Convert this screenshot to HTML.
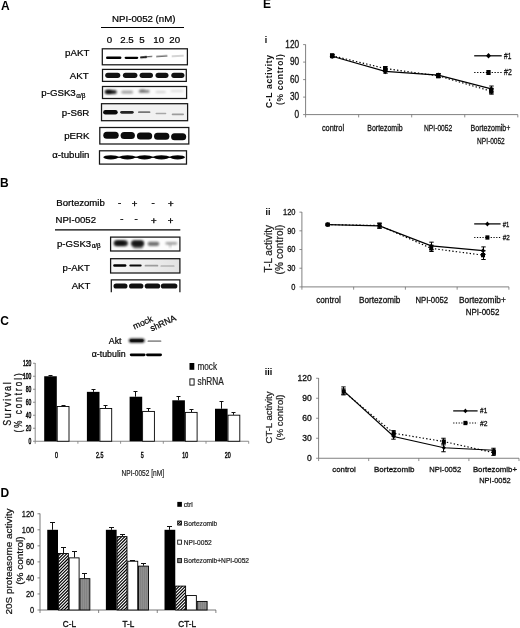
<!DOCTYPE html>
<html><head><meta charset="utf-8"><title>Figure</title>
<style>
html,body{margin:0;padding:0;background:#fff;}
body{width:520px;height:628px;overflow:hidden;}
svg{display:block;filter:grayscale(1);font-family:'Liberation Sans', sans-serif;}
</style></head><body>
<svg width="520" height="628" viewBox="0 0 520 628" font-family="'Liberation Sans', sans-serif">
<rect width="520" height="628" fill="#fff"/>
<defs>
<filter id="b1" x="-20%" y="-100%" width="140%" height="300%"><feGaussianBlur stdDeviation="0.7"/></filter>
<filter id="b2" x="-20%" y="-100%" width="140%" height="300%"><feGaussianBlur stdDeviation="1.1"/></filter>
<pattern id="hatch" width="1.7" height="1.7" patternUnits="userSpaceOnUse" patternTransform="rotate(-52)"><rect width="1.7" height="1.7" fill="#fff"/><rect width="1.7" height="0.9" fill="#000"/></pattern>
<pattern id="vstripe" width="2" height="2" patternUnits="userSpaceOnUse"><rect width="2" height="2" fill="#8f8f8f"/><rect width="1" height="2" fill="#838383"/></pattern>
</defs>
<text transform="translate(1.10,9.60)" font-size="12" text-anchor="start" font-weight="bold" fill="#000">A</text>
<text transform="translate(112.00,22.40)" font-size="9.7" text-anchor="start" fill="#000" stroke="#000" stroke-width="0.22">NPI-0052 (nM)</text>
<line x1="101.00" y1="27.50" x2="184.00" y2="27.50" stroke="#000" stroke-width="1.1"/>
<text transform="translate(109.50,43.40)" font-size="9.7" text-anchor="middle" fill="#000" stroke="#000" stroke-width="0.22">0</text>
<text transform="translate(127.00,43.40)" font-size="9.7" text-anchor="middle" fill="#000" stroke="#000" stroke-width="0.22">2.5</text>
<text transform="translate(142.00,43.40)" font-size="9.7" text-anchor="middle" fill="#000" stroke="#000" stroke-width="0.22">5</text>
<text transform="translate(158.70,43.40)" font-size="9.7" text-anchor="middle" fill="#000" stroke="#000" stroke-width="0.22">10</text>
<text transform="translate(174.70,43.40)" font-size="9.7" text-anchor="middle" fill="#000" stroke="#000" stroke-width="0.22">20</text>
<text transform="translate(89.30,56.30)" font-size="9.7" text-anchor="end" fill="#000" stroke="#000" stroke-width="0.22">pAKT</text>
<text transform="translate(88.70,79.40)" font-size="9.7" text-anchor="end" fill="#000" stroke="#000" stroke-width="0.22">AKT</text>
<text transform="translate(41.30,96.10)" font-size="9.7" text-anchor="start" fill="#000" stroke="#000" stroke-width="0.22">p-GSK3<tspan font-size="6.4" dy="1.7" dx="0.5">α/β</tspan></text>
<text transform="translate(89.30,116.30)" font-size="9.7" text-anchor="end" fill="#000" stroke="#000" stroke-width="0.22">p-S6R</text>
<text transform="translate(89.50,139.30)" font-size="9.7" text-anchor="end" fill="#000" stroke="#000" stroke-width="0.22">pERK</text>
<text transform="translate(89.50,158.00)" font-size="9.7" text-anchor="end" fill="#000" stroke="#000" stroke-width="0.22">α-tubulin</text>
<rect x="102.30" y="48.80" width="85.10" height="16.00" fill="#fff" stroke="#161616" stroke-width="1.25"/>
<rect x="102.50" y="69.40" width="83.80" height="12.00" fill="#fff" stroke="#161616" stroke-width="1.25"/>
<rect x="102.50" y="86.50" width="84.10" height="12.00" fill="#fbfbfb" stroke="#161616" stroke-width="1.25"/>
<rect x="101.50" y="103.70" width="86.10" height="17.00" fill="#f1f1f1" stroke="#161616" stroke-width="1.25"/>
<rect x="99.80" y="127.50" width="89.00" height="16.50" fill="#fff" stroke="#161616" stroke-width="1.25"/>
<rect x="99.50" y="150.80" width="87.00" height="13.30" fill="#fff" stroke="#161616" stroke-width="1.25"/>
<rect x="106.00" y="56.55" width="15.40" height="2.50" rx="1.25" fill="#000" opacity="1.0" filter="url(#b1)"/>
<rect x="124.60" y="56.65" width="13.70" height="2.30" rx="1.15" fill="#000" opacity="1.0" filter="url(#b1)"/>
<rect x="140.00" y="56.30" width="7.00" height="2.00" rx="1.00" fill="#000" opacity="0.9" filter="url(#b1)" transform="rotate(-5 143.50 57.30)"/>
<rect x="145.00" y="55.90" width="7.50" height="1.40" rx="0.70" fill="#000" opacity="0.6" filter="url(#b1)" transform="rotate(-5 148.75 56.60)"/>
<rect x="156.00" y="55.55" width="11.60" height="1.50" rx="0.75" fill="#000" opacity="0.55" filter="url(#b1)" transform="rotate(-4 161.80 56.30)"/>
<rect x="171.50" y="55.35" width="12.40" height="1.30" rx="0.65" fill="#000" opacity="0.22" filter="url(#b1)" transform="rotate(-3 177.70 56.00)"/>
<rect x="105.20" y="72.65" width="15.10" height="5.30" rx="2.65" fill="#000" opacity="0.92" filter="url(#b1)"/>
<rect x="122.90" y="72.65" width="14.50" height="5.30" rx="2.65" fill="#000" opacity="0.92" filter="url(#b1)"/>
<rect x="139.60" y="72.65" width="13.40" height="5.30" rx="2.65" fill="#000" opacity="0.92" filter="url(#b1)"/>
<rect x="155.50" y="72.65" width="13.00" height="5.30" rx="2.65" fill="#000" opacity="0.92" filter="url(#b1)"/>
<rect x="171.30" y="72.65" width="13.10" height="5.30" rx="2.65" fill="#000" opacity="0.92" filter="url(#b1)"/>
<rect x="104.80" y="89.90" width="12.00" height="4.20" rx="2.10" fill="#000" opacity="0.85" filter="url(#b2)"/>
<rect x="105.50" y="90.00" width="6.50" height="3.60" rx="1.80" fill="#000" opacity="0.7" filter="url(#b2)"/>
<rect x="121.40" y="90.80" width="11.60" height="2.80" rx="1.40" fill="#000" opacity="0.38" filter="url(#b2)"/>
<rect x="138.70" y="90.00" width="10.80" height="2.80" rx="1.40" fill="#000" opacity="0.5" filter="url(#b2)"/>
<rect x="140.00" y="89.20" width="5.00" height="2.00" rx="1.00" fill="#000" opacity="0.3" filter="url(#b2)"/>
<rect x="155.50" y="91.20" width="10.30" height="1.60" rx="0.80" fill="#000" opacity="0.22" filter="url(#b2)"/>
<rect x="170.50" y="90.20" width="12.90" height="1.60" rx="0.80" fill="#000" opacity="0.16" filter="url(#b2)"/>
<rect x="103.10" y="110.05" width="14.60" height="4.50" rx="2.25" fill="#000" opacity="0.97" filter="url(#b1)"/>
<rect x="120.20" y="110.90" width="13.50" height="2.80" rx="1.40" fill="#000" opacity="0.85" filter="url(#b1)"/>
<rect x="138.00" y="111.30" width="12.40" height="1.80" rx="0.90" fill="#000" opacity="0.5" filter="url(#b1)"/>
<rect x="155.50" y="112.65" width="10.80" height="1.50" rx="0.75" fill="#000" opacity="0.3" filter="url(#b1)"/>
<rect x="171.70" y="113.45" width="12.30" height="1.70" rx="0.85" fill="#000" opacity="0.35" filter="url(#b1)"/>
<rect x="103.30" y="131.80" width="15.40" height="7.00" rx="3.50" fill="#000" opacity="0.95" filter="url(#b1)"/>
<rect x="120.60" y="132.10" width="14.30" height="7.00" rx="3.50" fill="#000" opacity="0.95" filter="url(#b1)"/>
<rect x="136.90" y="132.50" width="15.30" height="7.00" rx="3.50" fill="#000" opacity="0.95" filter="url(#b1)"/>
<rect x="154.00" y="132.80" width="15.40" height="7.00" rx="3.50" fill="#000" opacity="0.95" filter="url(#b1)"/>
<rect x="171.10" y="133.30" width="15.10" height="7.00" rx="3.50" fill="#000" opacity="0.95" filter="url(#b1)"/>
<ellipse cx="110.80" cy="157.3" rx="7.50" ry="2.1" fill="#000" opacity="0.97" filter="url(#b1)"/>
<ellipse cx="127.50" cy="157.3" rx="7.70" ry="2.1" fill="#000" opacity="0.97" filter="url(#b1)"/>
<ellipse cx="144.60" cy="157.3" rx="7.60" ry="2.1" fill="#000" opacity="0.97" filter="url(#b1)"/>
<ellipse cx="161.40" cy="157.3" rx="7.80" ry="2.1" fill="#000" opacity="0.97" filter="url(#b1)"/>
<ellipse cx="177.60" cy="157.3" rx="7.40" ry="2.1" fill="#000" opacity="0.97" filter="url(#b1)"/>
<rect x="105.00" y="156.60" width="78.00" height="1.40" rx="0.70" fill="#000" opacity="0.9" filter="url(#b1)"/>
<text transform="translate(0.00,186.70)" font-size="12" text-anchor="start" font-weight="bold" fill="#000">B</text>
<text transform="translate(56.30,206.30)" font-size="9.6" text-anchor="start" fill="#000" stroke="#000" stroke-width="0.22">Bortezomib</text>
<text transform="translate(55.50,223.00)" font-size="9.6" text-anchor="start" fill="#000" stroke="#000" stroke-width="0.22">NPI-0052</text>
<text transform="translate(119.70,205.60)" font-size="9.6" text-anchor="middle" fill="#000" stroke="#000" stroke-width="0.4">-</text>
<text transform="translate(134.60,206.90)" font-size="9.6" text-anchor="middle" fill="#000" stroke="#000" stroke-width="0.4">+</text>
<text transform="translate(153.10,205.60)" font-size="9.6" text-anchor="middle" fill="#000" stroke="#000" stroke-width="0.4">-</text>
<text transform="translate(170.80,206.90)" font-size="9.6" text-anchor="middle" fill="#000" stroke="#000" stroke-width="0.4">+</text>
<text transform="translate(121.80,222.20)" font-size="9.6" text-anchor="middle" fill="#000" stroke="#000" stroke-width="0.4">-</text>
<text transform="translate(136.00,222.20)" font-size="9.6" text-anchor="middle" fill="#000" stroke="#000" stroke-width="0.4">-</text>
<text transform="translate(153.70,224.10)" font-size="9.6" text-anchor="middle" fill="#000" stroke="#000" stroke-width="0.4">+</text>
<text transform="translate(170.60,224.10)" font-size="9.6" text-anchor="middle" fill="#000" stroke="#000" stroke-width="0.4">+</text>
<line x1="55.00" y1="229.90" x2="180.30" y2="229.90" stroke="#000" stroke-width="1.3"/>
<text transform="translate(57.00,246.70)" font-size="9.6" text-anchor="start" fill="#000" stroke="#000" stroke-width="0.22">p-GSK3<tspan font-size="6.3" dy="1.5" dx="0.5">α/β</tspan></text>
<text transform="translate(89.80,271.30)" font-size="9.6" text-anchor="end" fill="#000" stroke="#000" stroke-width="0.22">p-AKT</text>
<text transform="translate(90.30,288.80)" font-size="9.6" text-anchor="end" fill="#000" stroke="#000" stroke-width="0.22">AKT</text>
<linearGradient id="gB2" x1="0" x2="1" y1="0" y2="0"><stop offset="0" stop-color="#f6f6f6"/><stop offset="0.6" stop-color="#ececec"/><stop offset="1" stop-color="#e2e2e2"/></linearGradient>
<rect x="110.60" y="237.10" width="69.30" height="13.90" fill="#fcfcfc" stroke="#161616" stroke-width="1.25"/>
<rect x="110.60" y="258.70" width="69.30" height="14.30" fill="url(#gB2)" stroke="#161616" stroke-width="1.25"/>
<path d="M111.3 292.3 V279.9 H179.9 V292.3" fill="#fff" stroke="#161616" stroke-width="1.25"/>
<rect x="113.70" y="240.20" width="14.20" height="6.00" rx="3.00" fill="#000" opacity="0.85" filter="url(#b2)"/>
<rect x="115.50" y="241.00" width="9.50" height="4.00" rx="2.00" fill="#000" opacity="0.6" filter="url(#b2)"/>
<rect x="131.00" y="240.30" width="13.20" height="6.60" rx="3.30" fill="#000" opacity="0.8" filter="url(#b2)"/>
<rect x="132.50" y="241.20" width="10.50" height="4.00" rx="2.00" fill="#000" opacity="0.6" filter="url(#b2)"/>
<rect x="133.00" y="245.00" width="10.00" height="4.00" rx="2.00" fill="#000" opacity="0.35" filter="url(#b2)"/>
<rect x="147.60" y="241.70" width="11.70" height="4.20" rx="2.10" fill="#000" opacity="0.55" filter="url(#b2)"/>
<rect x="165.50" y="241.90" width="11.70" height="2.80" rx="1.40" fill="#000" opacity="0.36" filter="url(#b2)"/>
<rect x="169.00" y="244.25" width="2.50" height="3.50" rx="1.25" fill="#000" opacity="0.2" filter="url(#b2)"/>
<rect x="113.20" y="264.35" width="13.20" height="2.50" rx="1.25" fill="#000" opacity="1.0" filter="url(#b1)"/>
<rect x="129.30" y="264.40" width="12.40" height="2.20" rx="1.10" fill="#000" opacity="0.95" filter="url(#b1)"/>
<rect x="144.60" y="264.85" width="13.70" height="1.70" rx="0.85" fill="#000" opacity="0.33" filter="url(#b1)"/>
<rect x="160.40" y="265.15" width="14.20" height="1.70" rx="0.85" fill="#000" opacity="0.22" filter="url(#b1)"/>
<rect x="113.50" y="283.40" width="14.00" height="5.20" rx="2.60" fill="#000" opacity="0.93" filter="url(#b1)"/>
<rect x="129.00" y="283.40" width="14.40" height="5.20" rx="2.60" fill="#000" opacity="0.93" filter="url(#b1)"/>
<rect x="144.70" y="283.40" width="15.50" height="5.20" rx="2.60" fill="#000" opacity="0.93" filter="url(#b1)"/>
<rect x="160.80" y="283.40" width="16.60" height="5.20" rx="2.60" fill="#000" opacity="0.93" filter="url(#b1)"/>
<text transform="translate(0.35,324.50)" font-size="12" text-anchor="start" font-weight="bold" fill="#000">C</text>
<text transform="translate(134.60,329.60) rotate(-25)" font-size="8.7" text-anchor="start" fill="#000" stroke="#000" stroke-width="0.22">mock</text>
<text transform="translate(151.80,331.60) rotate(-25)" font-size="8.7" text-anchor="start" fill="#000" stroke="#000" stroke-width="0.22">shRNA</text>
<text transform="translate(121.50,343.60)" font-size="8.8" text-anchor="end" fill="#000" stroke="#000" stroke-width="0.22">Akt</text>
<text transform="translate(125.70,356.80)" font-size="8.8" text-anchor="end" fill="#000" stroke="#000" stroke-width="0.22">α-tubulin</text>
<rect x="128.70" y="338.40" width="16.00" height="4.40" rx="2.20" fill="#000" opacity="0.92" filter="url(#b2)"/>
<rect x="130.00" y="339.30" width="13.50" height="2.60" rx="1.30" fill="#000" opacity="0.6" filter="url(#b1)"/>
<rect x="147.50" y="340.30" width="13.90" height="1.80" rx="0.90" fill="#000" opacity="0.42" filter="url(#b1)"/>
<rect x="129.80" y="353.40" width="15.80" height="2.80" rx="1.40" fill="#000" opacity="1.0" filter="url(#b1)"/>
<rect x="146.00" y="353.40" width="16.00" height="2.80" rx="1.40" fill="#000" opacity="1.0" filter="url(#b1)"/>
<line x1="35.20" y1="363.00" x2="35.20" y2="441.25" stroke="#888" stroke-width="1"/>
<line x1="35.20" y1="441.25" x2="248.70" y2="441.25" stroke="#888" stroke-width="1"/>
<line x1="33.00" y1="441.25" x2="35.20" y2="441.25" stroke="#777" stroke-width="0.8"/>
<text transform="translate(31.30,444.25) scale(0.6,1)" font-size="8.4" text-anchor="end" fill="#111" stroke="#111" stroke-width="0.55">0</text>
<line x1="33.00" y1="428.25" x2="35.20" y2="428.25" stroke="#777" stroke-width="0.8"/>
<text transform="translate(31.30,431.25) scale(0.6,1)" font-size="8.4" text-anchor="end" fill="#111" stroke="#111" stroke-width="0.55">20</text>
<line x1="33.00" y1="415.25" x2="35.20" y2="415.25" stroke="#777" stroke-width="0.8"/>
<text transform="translate(31.30,418.25) scale(0.6,1)" font-size="8.4" text-anchor="end" fill="#111" stroke="#111" stroke-width="0.55">40</text>
<line x1="33.00" y1="402.25" x2="35.20" y2="402.25" stroke="#777" stroke-width="0.8"/>
<text transform="translate(31.30,405.25) scale(0.6,1)" font-size="8.4" text-anchor="end" fill="#111" stroke="#111" stroke-width="0.55">60</text>
<line x1="33.00" y1="389.25" x2="35.20" y2="389.25" stroke="#777" stroke-width="0.8"/>
<text transform="translate(31.30,392.25) scale(0.6,1)" font-size="8.4" text-anchor="end" fill="#111" stroke="#111" stroke-width="0.55">80</text>
<line x1="33.00" y1="376.25" x2="35.20" y2="376.25" stroke="#777" stroke-width="0.8"/>
<text transform="translate(31.30,379.25) scale(0.6,1)" font-size="8.4" text-anchor="end" fill="#111" stroke="#111" stroke-width="0.55">100</text>
<line x1="33.00" y1="363.25" x2="35.20" y2="363.25" stroke="#777" stroke-width="0.8"/>
<text transform="translate(31.30,366.25) scale(0.6,1)" font-size="8.4" text-anchor="end" fill="#111" stroke="#111" stroke-width="0.55">120</text>
<line x1="35.20" y1="441.25" x2="35.20" y2="443.75" stroke="#777" stroke-width="0.8"/>
<line x1="77.90" y1="441.25" x2="77.90" y2="443.75" stroke="#777" stroke-width="0.8"/>
<line x1="120.60" y1="441.25" x2="120.60" y2="443.75" stroke="#777" stroke-width="0.8"/>
<line x1="163.30" y1="441.25" x2="163.30" y2="443.75" stroke="#777" stroke-width="0.8"/>
<line x1="206.00" y1="441.25" x2="206.00" y2="443.75" stroke="#777" stroke-width="0.8"/>
<line x1="248.70" y1="441.25" x2="248.70" y2="443.75" stroke="#777" stroke-width="0.8"/>
<line x1="50.50" y1="376.25" x2="50.50" y2="375.50" stroke="#111" stroke-width="1.0"/>
<line x1="48.50" y1="375.50" x2="52.50" y2="375.50" stroke="#111" stroke-width="1.0"/>
<line x1="63.50" y1="406.15" x2="63.50" y2="405.50" stroke="#111" stroke-width="1.0"/>
<line x1="61.50" y1="405.50" x2="65.50" y2="405.50" stroke="#111" stroke-width="1.0"/>
<rect x="44.20" y="376.25" width="12.60" height="65.00" fill="#000" stroke="none" stroke-width="1"/>
<rect x="57.20" y="406.55" width="11.80" height="34.70" fill="#fff" stroke="#000" stroke-width="0.9"/>
<line x1="93.50" y1="391.85" x2="93.50" y2="389.50" stroke="#111" stroke-width="1.0"/>
<line x1="91.50" y1="389.50" x2="95.50" y2="389.50" stroke="#111" stroke-width="1.0"/>
<line x1="105.50" y1="408.10" x2="105.50" y2="405.50" stroke="#111" stroke-width="1.0"/>
<line x1="103.50" y1="405.50" x2="107.50" y2="405.50" stroke="#111" stroke-width="1.0"/>
<rect x="86.90" y="391.85" width="12.60" height="49.40" fill="#000" stroke="none" stroke-width="1"/>
<rect x="99.90" y="408.50" width="11.80" height="32.75" fill="#fff" stroke="#000" stroke-width="0.9"/>
<line x1="135.50" y1="396.73" x2="135.50" y2="391.50" stroke="#111" stroke-width="1.0"/>
<line x1="133.50" y1="391.50" x2="137.50" y2="391.50" stroke="#111" stroke-width="1.0"/>
<line x1="148.50" y1="411.02" x2="148.50" y2="408.50" stroke="#111" stroke-width="1.0"/>
<line x1="146.50" y1="408.50" x2="150.50" y2="408.50" stroke="#111" stroke-width="1.0"/>
<rect x="129.60" y="396.73" width="12.60" height="44.52" fill="#000" stroke="none" stroke-width="1"/>
<rect x="142.60" y="411.42" width="11.80" height="29.83" fill="#fff" stroke="#000" stroke-width="0.9"/>
<line x1="178.50" y1="400.30" x2="178.50" y2="396.50" stroke="#111" stroke-width="1.0"/>
<line x1="176.50" y1="396.50" x2="180.50" y2="396.50" stroke="#111" stroke-width="1.0"/>
<line x1="191.50" y1="412.00" x2="191.50" y2="409.50" stroke="#111" stroke-width="1.0"/>
<line x1="189.50" y1="409.50" x2="193.50" y2="409.50" stroke="#111" stroke-width="1.0"/>
<rect x="172.30" y="400.30" width="12.60" height="40.95" fill="#000" stroke="none" stroke-width="1"/>
<rect x="185.30" y="412.40" width="11.80" height="28.85" fill="#fff" stroke="#000" stroke-width="0.9"/>
<line x1="221.50" y1="408.75" x2="221.50" y2="401.50" stroke="#111" stroke-width="1.0"/>
<line x1="219.50" y1="401.50" x2="223.50" y2="401.50" stroke="#111" stroke-width="1.0"/>
<line x1="233.50" y1="414.80" x2="233.50" y2="412.50" stroke="#111" stroke-width="1.0"/>
<line x1="231.50" y1="412.50" x2="235.50" y2="412.50" stroke="#111" stroke-width="1.0"/>
<rect x="215.00" y="408.75" width="12.60" height="32.50" fill="#000" stroke="none" stroke-width="1"/>
<rect x="228.00" y="415.19" width="11.80" height="26.06" fill="#fff" stroke="#000" stroke-width="0.9"/>
<text transform="translate(56.60,457.60) scale(0.64,1)" font-size="8.3" text-anchor="middle" fill="#111" stroke="#111" stroke-width="0.5">0</text>
<text transform="translate(99.70,457.60) scale(0.64,1)" font-size="8.3" text-anchor="middle" fill="#111" stroke="#111" stroke-width="0.5">2.5</text>
<text transform="translate(142.20,457.60) scale(0.64,1)" font-size="8.3" text-anchor="middle" fill="#111" stroke="#111" stroke-width="0.5">5</text>
<text transform="translate(185.20,457.60) scale(0.64,1)" font-size="8.3" text-anchor="middle" fill="#111" stroke="#111" stroke-width="0.5">10</text>
<text transform="translate(227.80,457.60) scale(0.64,1)" font-size="8.3" text-anchor="middle" fill="#111" stroke="#111" stroke-width="0.5">20</text>
<text transform="translate(142.80,475.80) scale(0.75,1)" font-size="8.8" text-anchor="middle" fill="#222" stroke="#222" stroke-width="0.2">NPI-0052 [nM]</text>
<text transform="translate(11.20,403.20) rotate(-90) scale(0.8,1)" font-size="11" text-anchor="middle" letter-spacing="2.15" fill="#111" stroke="#111" stroke-width="0.3">Survival</text>
<text transform="translate(21.60,401.90) rotate(-90) scale(0.8,1)" font-size="10" text-anchor="middle" letter-spacing="2.56" fill="#111" stroke="#111" stroke-width="0.3">(% control)</text>
<rect x="189.50" y="363.00" width="4.80" height="6.80" fill="#000" stroke="none" stroke-width="1"/>
<rect x="189.90" y="378.90" width="4.20" height="6.20" fill="#fff" stroke="#000" stroke-width="0.9"/>
<text transform="translate(197.50,370.40) scale(0.82,1)" font-size="10" text-anchor="start" fill="#222" stroke="#222" stroke-width="0.2">mock</text>
<text transform="translate(197.50,384.60) scale(0.83,1)" font-size="10" text-anchor="start" fill="#222" stroke="#222" stroke-width="0.2">shRNA</text>
<text transform="translate(0.50,496.80)" font-size="12" text-anchor="start" font-weight="bold" fill="#000">D</text>
<line x1="40.00" y1="513.50" x2="40.00" y2="610.00" stroke="#777" stroke-width="1"/>
<line x1="40.00" y1="610.00" x2="216.00" y2="610.00" stroke="#777" stroke-width="1"/>
<line x1="37.50" y1="610.00" x2="40.00" y2="610.00" stroke="#666" stroke-width="0.8"/>
<text transform="translate(34.20,613.40) scale(0.8,1)" font-size="9.3" text-anchor="end" fill="#111" stroke="#111" stroke-width="0.3">0</text>
<line x1="37.50" y1="593.96" x2="40.00" y2="593.96" stroke="#666" stroke-width="0.8"/>
<text transform="translate(34.20,597.36) scale(0.8,1)" font-size="9.3" text-anchor="end" fill="#111" stroke="#111" stroke-width="0.3">20</text>
<line x1="37.50" y1="577.92" x2="40.00" y2="577.92" stroke="#666" stroke-width="0.8"/>
<text transform="translate(34.20,581.32) scale(0.8,1)" font-size="9.3" text-anchor="end" fill="#111" stroke="#111" stroke-width="0.3">40</text>
<line x1="37.50" y1="561.88" x2="40.00" y2="561.88" stroke="#666" stroke-width="0.8"/>
<text transform="translate(34.20,565.28) scale(0.8,1)" font-size="9.3" text-anchor="end" fill="#111" stroke="#111" stroke-width="0.3">60</text>
<line x1="37.50" y1="545.84" x2="40.00" y2="545.84" stroke="#666" stroke-width="0.8"/>
<text transform="translate(34.20,549.24) scale(0.8,1)" font-size="9.3" text-anchor="end" fill="#111" stroke="#111" stroke-width="0.3">80</text>
<line x1="37.50" y1="529.80" x2="40.00" y2="529.80" stroke="#666" stroke-width="0.8"/>
<text transform="translate(34.20,533.20) scale(0.8,1)" font-size="9.3" text-anchor="end" fill="#111" stroke="#111" stroke-width="0.3">100</text>
<line x1="37.50" y1="513.76" x2="40.00" y2="513.76" stroke="#666" stroke-width="0.8"/>
<text transform="translate(34.20,517.16) scale(0.8,1)" font-size="9.3" text-anchor="end" fill="#111" stroke="#111" stroke-width="0.3">120</text>
<line x1="40.00" y1="610.00" x2="40.00" y2="613.00" stroke="#666" stroke-width="0.8"/>
<line x1="98.63" y1="610.00" x2="98.63" y2="613.00" stroke="#666" stroke-width="0.8"/>
<line x1="157.26" y1="610.00" x2="157.26" y2="613.00" stroke="#666" stroke-width="0.8"/>
<line x1="215.89" y1="610.00" x2="215.89" y2="613.00" stroke="#666" stroke-width="0.8"/>
<line x1="52.50" y1="529.80" x2="52.50" y2="522.50" stroke="#111" stroke-width="1.0"/>
<line x1="50.00" y1="522.50" x2="55.00" y2="522.50" stroke="#111" stroke-width="1.0"/>
<rect x="47.25" y="529.80" width="10.75" height="80.20" fill="#000" stroke="none" stroke-width="1"/>
<line x1="63.50" y1="553.06" x2="63.50" y2="547.50" stroke="#111" stroke-width="1.0"/>
<line x1="61.00" y1="547.50" x2="66.00" y2="547.50" stroke="#111" stroke-width="1.0"/>
<clipPath id="hc1"><rect x="58.40" y="553.46" width="9.95" height="56.54"/></clipPath>
<rect x="58.40" y="553.46" width="9.95" height="56.54" fill="#fff"/>
<path d="M57.40 553.70L69.35 541.75M57.40 556.85L69.35 544.90M57.40 560.00L69.35 548.05M57.40 563.15L69.35 551.20M57.40 566.30L69.35 554.35M57.40 569.45L69.35 557.50M57.40 572.60L69.35 560.65M57.40 575.75L69.35 563.80M57.40 578.90L69.35 566.95M57.40 582.05L69.35 570.10M57.40 585.20L69.35 573.25M57.40 588.35L69.35 576.40M57.40 591.50L69.35 579.55M57.40 594.65L69.35 582.70M57.40 597.80L69.35 585.85M57.40 600.95L69.35 589.00M57.40 604.10L69.35 592.15M57.40 607.25L69.35 595.30M57.40 610.40L69.35 598.45M57.40 613.55L69.35 601.60M57.40 616.70L69.35 604.75M57.40 619.85L69.35 607.90M57.40 623.00L69.35 611.05" stroke="#000" stroke-width="1.15" fill="none" clip-path="url(#hc1)"/>
<rect x="58.40" y="553.46" width="9.95" height="56.54" fill="none" stroke="#000" stroke-width="0.9"/>
<line x1="74.50" y1="557.47" x2="74.50" y2="551.50" stroke="#111" stroke-width="1.0"/>
<line x1="72.00" y1="551.50" x2="77.00" y2="551.50" stroke="#111" stroke-width="1.0"/>
<rect x="69.15" y="557.87" width="9.95" height="52.13" fill="#fff" stroke="#000" stroke-width="0.9"/>
<line x1="84.50" y1="578.24" x2="84.50" y2="573.50" stroke="#111" stroke-width="1.0"/>
<line x1="82.00" y1="573.50" x2="87.00" y2="573.50" stroke="#111" stroke-width="1.0"/>
<rect x="79.90" y="578.64" width="9.95" height="31.36" fill="url(#vstripe)" stroke="#000" stroke-width="0.9"/>
<line x1="111.50" y1="529.80" x2="111.50" y2="527.50" stroke="#111" stroke-width="1.0"/>
<line x1="109.00" y1="527.50" x2="114.00" y2="527.50" stroke="#111" stroke-width="1.0"/>
<rect x="105.88" y="529.80" width="10.75" height="80.20" fill="#000" stroke="none" stroke-width="1"/>
<line x1="122.50" y1="536.22" x2="122.50" y2="534.50" stroke="#111" stroke-width="1.0"/>
<line x1="120.00" y1="534.50" x2="125.00" y2="534.50" stroke="#111" stroke-width="1.0"/>
<clipPath id="hc2"><rect x="117.03" y="536.62" width="9.95" height="73.38"/></clipPath>
<rect x="117.03" y="536.62" width="9.95" height="73.38" fill="#fff"/>
<path d="M116.03 536.02L127.98 524.07M116.03 539.17L127.98 527.22M116.03 542.32L127.98 530.37M116.03 545.47L127.98 533.52M116.03 548.62L127.98 536.67M116.03 551.77L127.98 539.82M116.03 554.92L127.98 542.97M116.03 558.07L127.98 546.12M116.03 561.22L127.98 549.27M116.03 564.37L127.98 552.42M116.03 567.52L127.98 555.57M116.03 570.67L127.98 558.72M116.03 573.82L127.98 561.87M116.03 576.97L127.98 565.02M116.03 580.12L127.98 568.17M116.03 583.27L127.98 571.32M116.03 586.42L127.98 574.47M116.03 589.57L127.98 577.62M116.03 592.72L127.98 580.77M116.03 595.87L127.98 583.92M116.03 599.02L127.98 587.07M116.03 602.17L127.98 590.22M116.03 605.32L127.98 593.37M116.03 608.47L127.98 596.52M116.03 611.62L127.98 599.67M116.03 614.77L127.98 602.82M116.03 617.92L127.98 605.97M116.03 621.07L127.98 609.12" stroke="#000" stroke-width="1.15" fill="none" clip-path="url(#hc2)"/>
<rect x="117.03" y="536.62" width="9.95" height="73.38" fill="none" stroke="#000" stroke-width="0.9"/>
<line x1="132.50" y1="560.84" x2="132.50" y2="560.50" stroke="#111" stroke-width="1.0"/>
<line x1="130.00" y1="560.50" x2="135.00" y2="560.50" stroke="#111" stroke-width="1.0"/>
<rect x="127.78" y="561.24" width="9.95" height="48.76" fill="#fff" stroke="#000" stroke-width="0.9"/>
<line x1="143.50" y1="565.73" x2="143.50" y2="563.50" stroke="#111" stroke-width="1.0"/>
<line x1="141.00" y1="563.50" x2="146.00" y2="563.50" stroke="#111" stroke-width="1.0"/>
<rect x="138.53" y="566.13" width="9.95" height="43.87" fill="url(#vstripe)" stroke="#000" stroke-width="0.9"/>
<line x1="169.50" y1="529.80" x2="169.50" y2="526.50" stroke="#111" stroke-width="1.0"/>
<line x1="167.00" y1="526.50" x2="172.00" y2="526.50" stroke="#111" stroke-width="1.0"/>
<rect x="164.51" y="529.80" width="10.75" height="80.20" fill="#000" stroke="none" stroke-width="1"/>
<clipPath id="hc3"><rect x="175.66" y="586.10" width="9.95" height="23.90"/></clipPath>
<rect x="175.66" y="586.10" width="9.95" height="23.90" fill="#fff"/>
<path d="M174.66 584.49L186.61 572.54M174.66 587.64L186.61 575.69M174.66 590.79L186.61 578.84M174.66 593.94L186.61 581.99M174.66 597.09L186.61 585.14M174.66 600.24L186.61 588.29M174.66 603.39L186.61 591.44M174.66 606.54L186.61 594.59M174.66 609.69L186.61 597.74M174.66 612.84L186.61 600.89M174.66 615.99L186.61 604.04M174.66 619.14L186.61 607.19M174.66 622.29L186.61 610.34" stroke="#000" stroke-width="1.15" fill="none" clip-path="url(#hc3)"/>
<rect x="175.66" y="586.10" width="9.95" height="23.90" fill="none" stroke="#000" stroke-width="0.9"/>
<rect x="186.41" y="595.56" width="9.95" height="14.44" fill="#fff" stroke="#000" stroke-width="0.9"/>
<rect x="197.16" y="601.42" width="9.95" height="8.58" fill="url(#vstripe)" stroke="#000" stroke-width="0.9"/>
<text transform="translate(69.40,627.20) scale(0.95,1)" font-size="8.6" text-anchor="middle" fill="#111" stroke="#111" stroke-width="0.35">C-L</text>
<text transform="translate(128.40,627.20) scale(0.95,1)" font-size="8.6" text-anchor="middle" fill="#111" stroke="#111" stroke-width="0.35">T-L</text>
<text transform="translate(187.20,627.20) scale(0.95,1)" font-size="8.6" text-anchor="middle" fill="#111" stroke="#111" stroke-width="0.35">CT-L</text>
<text transform="translate(12.10,561.50) rotate(-90) scale(1.035,1)" font-size="9.6" text-anchor="middle" fill="#111" stroke="#111" stroke-width="0.22">20S proteasome activity</text>
<text transform="translate(22.90,560.60) rotate(-90) scale(1.18,1)" font-size="8.5" text-anchor="middle" fill="#111" stroke="#111" stroke-width="0.22">(% control)</text>
<rect x="177.30" y="501.90" width="4.60" height="4.90" fill="#000" stroke="none" stroke-width="1"/>
<text transform="translate(183.80,506.80) scale(0.86,1)" font-size="7.7" text-anchor="start" fill="#222" stroke="#222" stroke-width="0.22">ctrl</text>
<clipPath id="hc4"><rect x="177.70" y="521.00" width="3.90" height="4.10"/></clipPath>
<rect x="177.70" y="521.00" width="3.90" height="4.10" fill="#fff"/>
<path d="M176.70 520.10L182.60 514.20M176.70 522.70L182.60 516.80M176.70 525.30L182.60 519.40M176.70 527.90L182.60 522.00M176.70 530.50L182.60 524.60" stroke="#000" stroke-width="1.1" fill="none" clip-path="url(#hc4)"/>
<rect x="177.70" y="521.00" width="3.90" height="4.10" fill="none" stroke="#000" stroke-width="0.8"/>
<text transform="translate(183.80,525.50) scale(0.86,1)" font-size="7.7" text-anchor="start" fill="#222" stroke="#222" stroke-width="0.22">Bortezomib</text>
<rect x="177.70" y="540.10" width="3.90" height="4.10" fill="#fff" stroke="#000" stroke-width="0.8"/>
<text transform="translate(183.80,544.60) scale(0.86,1)" font-size="7.7" text-anchor="start" fill="#222" stroke="#222" stroke-width="0.22">NPI-0052</text>
<rect x="177.70" y="558.60" width="3.90" height="4.10" fill="url(#vstripe)" stroke="#000" stroke-width="0.8"/>
<text transform="translate(183.80,563.10) scale(0.86,1)" font-size="7.7" text-anchor="start" fill="#222" stroke="#222" stroke-width="0.22">Bortezomib+NPI-0052</text>
<text transform="translate(263.00,8.40)" font-size="12" text-anchor="start" font-weight="bold" fill="#000">E</text>
<text transform="translate(264.80,42.60)" font-size="8.8" text-anchor="start" font-weight="bold" fill="#000">i</text>
<line x1="305.60" y1="44.50" x2="305.60" y2="114.60" stroke="#808080" stroke-width="1"/>
<line x1="305.60" y1="114.60" x2="517.80" y2="114.60" stroke="#808080" stroke-width="1"/>
<line x1="303.10" y1="114.60" x2="305.60" y2="114.60" stroke="#707070" stroke-width="0.8"/>
<text transform="translate(299.10,117.50) scale(0.8,1)" font-size="10.3" text-anchor="end" fill="#111" stroke="#111" stroke-width="0.3">0</text>
<line x1="303.10" y1="97.10" x2="305.60" y2="97.10" stroke="#707070" stroke-width="0.8"/>
<text transform="translate(299.10,100.00) scale(0.8,1)" font-size="10.3" text-anchor="end" fill="#111" stroke="#111" stroke-width="0.3">30</text>
<line x1="303.10" y1="79.60" x2="305.60" y2="79.60" stroke="#707070" stroke-width="0.8"/>
<text transform="translate(299.10,82.50) scale(0.8,1)" font-size="10.3" text-anchor="end" fill="#111" stroke="#111" stroke-width="0.3">60</text>
<line x1="303.10" y1="62.10" x2="305.60" y2="62.10" stroke="#707070" stroke-width="0.8"/>
<text transform="translate(299.10,65.00) scale(0.8,1)" font-size="10.3" text-anchor="end" fill="#111" stroke="#111" stroke-width="0.3">90</text>
<line x1="303.10" y1="44.60" x2="305.60" y2="44.60" stroke="#707070" stroke-width="0.8"/>
<text transform="translate(299.10,47.50) scale(0.8,1)" font-size="10.3" text-anchor="end" fill="#111" stroke="#111" stroke-width="0.3">120</text>
<line x1="305.60" y1="114.60" x2="305.60" y2="117.40" stroke="#707070" stroke-width="0.8"/>
<line x1="358.65" y1="114.60" x2="358.65" y2="117.40" stroke="#707070" stroke-width="0.8"/>
<line x1="411.70" y1="114.60" x2="411.70" y2="117.40" stroke="#707070" stroke-width="0.8"/>
<line x1="464.75" y1="114.60" x2="464.75" y2="117.40" stroke="#707070" stroke-width="0.8"/>
<line x1="517.80" y1="114.60" x2="517.80" y2="117.40" stroke="#707070" stroke-width="0.8"/>
<line x1="332.50" y1="55.10" x2="332.50" y2="57.44" stroke="#000" stroke-width="1.0"/>
<line x1="330.30" y1="55.10" x2="334.70" y2="55.10" stroke="#000" stroke-width="1.0"/>
<line x1="330.30" y1="57.44" x2="334.70" y2="57.44" stroke="#000" stroke-width="1.0"/>
<line x1="385.50" y1="69.69" x2="385.50" y2="73.19" stroke="#000" stroke-width="1.0"/>
<line x1="383.30" y1="69.69" x2="387.70" y2="69.69" stroke="#000" stroke-width="1.0"/>
<line x1="383.30" y1="73.19" x2="387.70" y2="73.19" stroke="#000" stroke-width="1.0"/>
<line x1="438.50" y1="73.48" x2="438.50" y2="76.98" stroke="#000" stroke-width="1.0"/>
<line x1="436.30" y1="73.48" x2="440.70" y2="73.48" stroke="#000" stroke-width="1.0"/>
<line x1="436.30" y1="76.98" x2="440.70" y2="76.98" stroke="#000" stroke-width="1.0"/>
<line x1="491.50" y1="86.02" x2="491.50" y2="91.85" stroke="#000" stroke-width="1.0"/>
<line x1="489.30" y1="86.02" x2="493.70" y2="86.02" stroke="#000" stroke-width="1.0"/>
<line x1="489.30" y1="91.85" x2="493.70" y2="91.85" stroke="#000" stroke-width="1.0"/>
<line x1="332.50" y1="54.52" x2="332.50" y2="56.85" stroke="#000" stroke-width="1.0"/>
<line x1="330.30" y1="54.52" x2="334.70" y2="54.52" stroke="#000" stroke-width="1.0"/>
<line x1="330.30" y1="56.85" x2="334.70" y2="56.85" stroke="#000" stroke-width="1.0"/>
<line x1="385.50" y1="66.77" x2="385.50" y2="70.27" stroke="#000" stroke-width="1.0"/>
<line x1="383.30" y1="66.77" x2="387.70" y2="66.77" stroke="#000" stroke-width="1.0"/>
<line x1="383.30" y1="70.27" x2="387.70" y2="70.27" stroke="#000" stroke-width="1.0"/>
<line x1="438.50" y1="74.06" x2="438.50" y2="77.56" stroke="#000" stroke-width="1.0"/>
<line x1="436.30" y1="74.06" x2="440.70" y2="74.06" stroke="#000" stroke-width="1.0"/>
<line x1="436.30" y1="77.56" x2="440.70" y2="77.56" stroke="#000" stroke-width="1.0"/>
<line x1="491.50" y1="88.35" x2="491.50" y2="94.18" stroke="#000" stroke-width="1.0"/>
<line x1="489.30" y1="88.35" x2="493.70" y2="88.35" stroke="#000" stroke-width="1.0"/>
<line x1="489.30" y1="94.18" x2="493.70" y2="94.18" stroke="#000" stroke-width="1.0"/>
<polyline points="332.12,55.69 385.18,68.52 438.23,75.81 491.27,91.27" fill="none" stroke="#000" stroke-width="1.15" stroke-dasharray="1.4 2.1"/>
<polyline points="332.12,56.27 385.18,71.44 438.23,75.23 491.27,88.93" fill="none" stroke="#000" stroke-width="1.25"/>
<rect x="329.98" y="53.19" width="4.30" height="5.00" fill="#000" stroke="none" stroke-width="1"/>
<rect x="383.03" y="66.02" width="4.30" height="5.00" fill="#000" stroke="none" stroke-width="1"/>
<rect x="436.08" y="73.31" width="4.30" height="5.00" fill="#000" stroke="none" stroke-width="1"/>
<rect x="489.12" y="88.77" width="4.30" height="5.00" fill="#000" stroke="none" stroke-width="1"/>
<path d="M329.62 56.27 L332.12 53.47 L334.62 56.27 L332.12 59.07Z" fill="#000"/>
<path d="M382.68 71.44 L385.18 68.64 L387.68 71.44 L385.18 74.24Z" fill="#000"/>
<path d="M435.73 75.23 L438.23 72.43 L440.73 75.23 L438.23 78.03Z" fill="#000"/>
<path d="M488.77 88.93 L491.27 86.13 L493.77 88.93 L491.27 91.73Z" fill="#000"/>
<line x1="474.20" y1="55.80" x2="501.70" y2="55.80" stroke="#000" stroke-width="1.25"/>
<path d="M486.00 55.80 L488.50 53.00 L491.00 55.80 L488.50 58.60Z" fill="#000"/>
<line x1="474.20" y1="72.50" x2="501.70" y2="72.50" stroke="#000" stroke-width="1.2" stroke-dasharray="1.3 1.6"/>
<rect x="486.35" y="70.00" width="4.30" height="5.00" fill="#000" stroke="none" stroke-width="1"/>
<text transform="translate(504.10,58.90) scale(0.7292,1)" font-size="9" text-anchor="start" fill="#111" stroke="#111" stroke-width="0.3">#1</text>
<text transform="translate(504.10,75.30) scale(0.7692,1)" font-size="9" text-anchor="start" fill="#111" stroke="#111" stroke-width="0.3">#2</text>
<text transform="translate(321.90,130.90) scale(0.7625,1)" font-size="9.7" text-anchor="start" fill="#111" stroke="#111" stroke-width="0.3">control</text>
<text transform="translate(367.30,131.00) scale(0.7216,1)" font-size="9.7" text-anchor="start" fill="#111" stroke="#111" stroke-width="0.3">Bortezomib</text>
<text transform="translate(424.00,131.00) scale(0.6906,1)" font-size="9.7" text-anchor="start" fill="#111" stroke="#111" stroke-width="0.3">NPI-0052</text>
<text transform="translate(470.60,131.00) scale(0.7291,1)" font-size="9.7" text-anchor="start" fill="#111" stroke="#111" stroke-width="0.3">Bortezomib+</text>
<text transform="translate(477.10,144.00) scale(0.676,1)" font-size="9.7" text-anchor="start" fill="#111" stroke="#111" stroke-width="0.3">NPI-0052</text>
<text transform="translate(271.70,81.20) rotate(-90)" font-size="8.5" text-anchor="middle" font-weight="bold" letter-spacing="0.65" fill="#111">C-L activity</text>
<text transform="translate(282.70,79.30) rotate(-90)" font-size="8.5" text-anchor="middle" font-weight="bold" letter-spacing="0.65" fill="#111">(% control)</text>
<text transform="translate(265.60,215.00)" font-size="9" text-anchor="start" font-weight="bold" fill="#000">ii</text>
<line x1="301.90" y1="212.00" x2="301.90" y2="286.90" stroke="#808080" stroke-width="1"/>
<line x1="301.90" y1="286.90" x2="508.90" y2="286.90" stroke="#808080" stroke-width="1"/>
<line x1="299.40" y1="286.90" x2="301.90" y2="286.90" stroke="#707070" stroke-width="0.8"/>
<text transform="translate(295.50,289.80) scale(0.88,1)" font-size="8.5" text-anchor="end" fill="#111" stroke="#111" stroke-width="0.3">0</text>
<line x1="299.40" y1="268.21" x2="301.90" y2="268.21" stroke="#707070" stroke-width="0.8"/>
<text transform="translate(295.50,271.11) scale(0.88,1)" font-size="8.5" text-anchor="end" fill="#111" stroke="#111" stroke-width="0.3">30</text>
<line x1="299.40" y1="249.52" x2="301.90" y2="249.52" stroke="#707070" stroke-width="0.8"/>
<text transform="translate(295.50,252.42) scale(0.88,1)" font-size="8.5" text-anchor="end" fill="#111" stroke="#111" stroke-width="0.3">60</text>
<line x1="299.40" y1="230.83" x2="301.90" y2="230.83" stroke="#707070" stroke-width="0.8"/>
<text transform="translate(295.50,233.73) scale(0.88,1)" font-size="8.5" text-anchor="end" fill="#111" stroke="#111" stroke-width="0.3">90</text>
<line x1="299.40" y1="212.14" x2="301.90" y2="212.14" stroke="#707070" stroke-width="0.8"/>
<text transform="translate(295.50,215.04) scale(0.88,1)" font-size="8.5" text-anchor="end" fill="#111" stroke="#111" stroke-width="0.3">120</text>
<line x1="301.90" y1="286.90" x2="301.90" y2="289.70" stroke="#707070" stroke-width="0.8"/>
<line x1="353.65" y1="286.90" x2="353.65" y2="289.70" stroke="#707070" stroke-width="0.8"/>
<line x1="405.40" y1="286.90" x2="405.40" y2="289.70" stroke="#707070" stroke-width="0.8"/>
<line x1="457.15" y1="286.90" x2="457.15" y2="289.70" stroke="#707070" stroke-width="0.8"/>
<line x1="508.90" y1="286.90" x2="508.90" y2="289.70" stroke="#707070" stroke-width="0.8"/>
<line x1="327.50" y1="223.98" x2="327.50" y2="225.22" stroke="#000" stroke-width="1.0"/>
<line x1="325.30" y1="223.98" x2="329.70" y2="223.98" stroke="#000" stroke-width="1.0"/>
<line x1="325.30" y1="225.22" x2="329.70" y2="225.22" stroke="#000" stroke-width="1.0"/>
<line x1="379.50" y1="223.35" x2="379.50" y2="228.34" stroke="#000" stroke-width="1.0"/>
<line x1="377.30" y1="223.35" x2="381.70" y2="223.35" stroke="#000" stroke-width="1.0"/>
<line x1="377.30" y1="228.34" x2="381.70" y2="228.34" stroke="#000" stroke-width="1.0"/>
<line x1="431.50" y1="242.17" x2="431.50" y2="249.64" stroke="#000" stroke-width="1.0"/>
<line x1="429.30" y1="242.17" x2="433.70" y2="242.17" stroke="#000" stroke-width="1.0"/>
<line x1="429.30" y1="249.64" x2="433.70" y2="249.64" stroke="#000" stroke-width="1.0"/>
<line x1="483.50" y1="246.90" x2="483.50" y2="254.38" stroke="#000" stroke-width="1.0"/>
<line x1="481.30" y1="246.90" x2="485.70" y2="246.90" stroke="#000" stroke-width="1.0"/>
<line x1="481.30" y1="254.38" x2="485.70" y2="254.38" stroke="#000" stroke-width="1.0"/>
<line x1="327.50" y1="223.98" x2="327.50" y2="225.22" stroke="#000" stroke-width="1.0"/>
<line x1="325.30" y1="223.98" x2="329.70" y2="223.98" stroke="#000" stroke-width="1.0"/>
<line x1="325.30" y1="225.22" x2="329.70" y2="225.22" stroke="#000" stroke-width="1.0"/>
<line x1="379.50" y1="223.04" x2="379.50" y2="228.03" stroke="#000" stroke-width="1.0"/>
<line x1="377.30" y1="223.04" x2="381.70" y2="223.04" stroke="#000" stroke-width="1.0"/>
<line x1="377.30" y1="228.03" x2="381.70" y2="228.03" stroke="#000" stroke-width="1.0"/>
<line x1="431.50" y1="245.28" x2="431.50" y2="251.51" stroke="#000" stroke-width="1.0"/>
<line x1="429.30" y1="245.28" x2="433.70" y2="245.28" stroke="#000" stroke-width="1.0"/>
<line x1="429.30" y1="251.51" x2="433.70" y2="251.51" stroke="#000" stroke-width="1.0"/>
<line x1="483.50" y1="250.77" x2="483.50" y2="259.49" stroke="#000" stroke-width="1.0"/>
<line x1="481.30" y1="250.77" x2="485.70" y2="250.77" stroke="#000" stroke-width="1.0"/>
<line x1="481.30" y1="259.49" x2="485.70" y2="259.49" stroke="#000" stroke-width="1.0"/>
<polyline points="327.77,224.60 379.52,225.53 431.27,248.40 483.02,255.13" fill="none" stroke="#000" stroke-width="1.15" stroke-dasharray="1.4 2.1"/>
<polyline points="327.77,224.60 379.52,225.85 431.27,245.91 483.02,250.64" fill="none" stroke="#000" stroke-width="1.25"/>
<rect x="325.77" y="222.45" width="4.00" height="4.30" fill="#000" stroke="none" stroke-width="1"/>
<rect x="377.52" y="223.38" width="4.00" height="4.30" fill="#000" stroke="none" stroke-width="1"/>
<rect x="429.27" y="246.25" width="4.00" height="4.30" fill="#000" stroke="none" stroke-width="1"/>
<rect x="481.02" y="252.98" width="4.00" height="4.30" fill="#000" stroke="none" stroke-width="1"/>
<path d="M325.57 224.60 L327.77 222.10 L329.97 224.60 L327.77 227.10Z" fill="#000"/>
<path d="M377.32 225.85 L379.52 223.35 L381.72 225.85 L379.52 228.35Z" fill="#000"/>
<path d="M429.07 245.91 L431.27 243.41 L433.47 245.91 L431.27 248.41Z" fill="#000"/>
<path d="M480.82 250.64 L483.02 248.14 L485.22 250.64 L483.02 253.14Z" fill="#000"/>
<line x1="474.20" y1="223.90" x2="500.60" y2="223.90" stroke="#000" stroke-width="1.25"/>
<path d="M485.20 223.90 L487.40 221.40 L489.60 223.90 L487.40 226.40Z" fill="#000"/>
<line x1="474.20" y1="237.50" x2="500.60" y2="237.50" stroke="#000" stroke-width="1.2" stroke-dasharray="1.2 1.55"/>
<rect x="485.40" y="235.35" width="4.00" height="4.30" fill="#000" stroke="none" stroke-width="1"/>
<text transform="translate(502.80,226.50) scale(0.7689,1)" font-size="7.6" text-anchor="start" fill="#111" stroke="#111" stroke-width="0.3">#1</text>
<text transform="translate(502.80,239.70) scale(0.8281,1)" font-size="7.6" text-anchor="start" fill="#111" stroke="#111" stroke-width="0.3">#2</text>
<text transform="translate(316.20,303.00) scale(0.9209,1)" font-size="8.9" text-anchor="start" fill="#111" stroke="#111" stroke-width="0.3">control</text>
<text transform="translate(359.00,303.00) scale(0.9197,1)" font-size="8.9" text-anchor="start" fill="#111" stroke="#111" stroke-width="0.3">Bortezomib</text>
<text transform="translate(415.40,303.00) scale(0.8697,1)" font-size="8.9" text-anchor="start" fill="#111" stroke="#111" stroke-width="0.3">NPI-0052</text>
<text transform="translate(459.00,303.00) scale(0.9321,1)" font-size="8.9" text-anchor="start" fill="#111" stroke="#111" stroke-width="0.3">Bortezomib+</text>
<text transform="translate(465.80,315.00) scale(0.8936,1)" font-size="8.9" text-anchor="start" fill="#111" stroke="#111" stroke-width="0.3">NPI-0052</text>
<text transform="translate(272.40,248.80) rotate(-90)" font-size="10" text-anchor="middle" fill="#222" stroke="#222" stroke-width="0.22">T-L activity</text>
<text transform="translate(283.00,249.50) rotate(-90)" font-size="10" text-anchor="middle" letter-spacing="0.15" fill="#222" stroke="#222" stroke-width="0.22">(% control)</text>
<text transform="translate(264.70,375.40)" font-size="9" text-anchor="start" font-weight="bold" fill="#000">iii</text>
<line x1="318.60" y1="378.00" x2="318.60" y2="458.25" stroke="#808080" stroke-width="1"/>
<line x1="318.60" y1="458.25" x2="519.00" y2="458.25" stroke="#808080" stroke-width="1"/>
<line x1="316.10" y1="458.25" x2="318.60" y2="458.25" stroke="#707070" stroke-width="0.8"/>
<text transform="translate(311.80,461.05)" font-size="8.5" text-anchor="end" fill="#111" stroke="#111" stroke-width="0.3">0</text>
<line x1="316.10" y1="438.25" x2="318.60" y2="438.25" stroke="#707070" stroke-width="0.8"/>
<text transform="translate(311.80,441.05)" font-size="8.5" text-anchor="end" fill="#111" stroke="#111" stroke-width="0.3">30</text>
<line x1="316.10" y1="418.25" x2="318.60" y2="418.25" stroke="#707070" stroke-width="0.8"/>
<text transform="translate(311.80,421.05)" font-size="8.5" text-anchor="end" fill="#111" stroke="#111" stroke-width="0.3">60</text>
<line x1="316.10" y1="398.25" x2="318.60" y2="398.25" stroke="#707070" stroke-width="0.8"/>
<text transform="translate(311.80,401.05)" font-size="8.5" text-anchor="end" fill="#111" stroke="#111" stroke-width="0.3">90</text>
<line x1="316.10" y1="378.25" x2="318.60" y2="378.25" stroke="#707070" stroke-width="0.8"/>
<text transform="translate(311.80,381.05)" font-size="8.5" text-anchor="end" fill="#111" stroke="#111" stroke-width="0.3">120</text>
<line x1="318.60" y1="458.25" x2="318.60" y2="461.05" stroke="#707070" stroke-width="0.8"/>
<line x1="368.70" y1="458.25" x2="368.70" y2="461.05" stroke="#707070" stroke-width="0.8"/>
<line x1="418.80" y1="458.25" x2="418.80" y2="461.05" stroke="#707070" stroke-width="0.8"/>
<line x1="468.90" y1="458.25" x2="468.90" y2="461.05" stroke="#707070" stroke-width="0.8"/>
<line x1="519.00" y1="458.25" x2="519.00" y2="461.05" stroke="#707070" stroke-width="0.8"/>
<line x1="343.50" y1="386.91" x2="343.50" y2="394.91" stroke="#000" stroke-width="1.0"/>
<line x1="341.30" y1="386.91" x2="345.70" y2="386.91" stroke="#000" stroke-width="1.0"/>
<line x1="341.30" y1="394.91" x2="345.70" y2="394.91" stroke="#000" stroke-width="1.0"/>
<line x1="393.50" y1="433.85" x2="393.50" y2="439.18" stroke="#000" stroke-width="1.0"/>
<line x1="391.30" y1="433.85" x2="395.70" y2="433.85" stroke="#000" stroke-width="1.0"/>
<line x1="391.30" y1="439.18" x2="395.70" y2="439.18" stroke="#000" stroke-width="1.0"/>
<line x1="443.50" y1="443.75" x2="443.50" y2="451.75" stroke="#000" stroke-width="1.0"/>
<line x1="441.30" y1="443.75" x2="445.70" y2="443.75" stroke="#000" stroke-width="1.0"/>
<line x1="441.30" y1="451.75" x2="445.70" y2="451.75" stroke="#000" stroke-width="1.0"/>
<line x1="493.50" y1="448.25" x2="493.50" y2="452.25" stroke="#000" stroke-width="1.0"/>
<line x1="491.30" y1="448.25" x2="495.70" y2="448.25" stroke="#000" stroke-width="1.0"/>
<line x1="491.30" y1="452.25" x2="495.70" y2="452.25" stroke="#000" stroke-width="1.0"/>
<line x1="343.50" y1="388.91" x2="343.50" y2="394.25" stroke="#000" stroke-width="1.0"/>
<line x1="341.30" y1="388.91" x2="345.70" y2="388.91" stroke="#000" stroke-width="1.0"/>
<line x1="341.30" y1="394.25" x2="345.70" y2="394.25" stroke="#000" stroke-width="1.0"/>
<line x1="393.50" y1="430.58" x2="393.50" y2="435.92" stroke="#000" stroke-width="1.0"/>
<line x1="391.30" y1="430.58" x2="395.70" y2="430.58" stroke="#000" stroke-width="1.0"/>
<line x1="391.30" y1="435.92" x2="395.70" y2="435.92" stroke="#000" stroke-width="1.0"/>
<line x1="443.50" y1="438.25" x2="443.50" y2="444.92" stroke="#000" stroke-width="1.0"/>
<line x1="441.30" y1="438.25" x2="445.70" y2="438.25" stroke="#000" stroke-width="1.0"/>
<line x1="441.30" y1="444.92" x2="445.70" y2="444.92" stroke="#000" stroke-width="1.0"/>
<line x1="493.50" y1="450.08" x2="493.50" y2="455.42" stroke="#000" stroke-width="1.0"/>
<line x1="491.30" y1="450.08" x2="495.70" y2="450.08" stroke="#000" stroke-width="1.0"/>
<line x1="491.30" y1="455.42" x2="495.70" y2="455.42" stroke="#000" stroke-width="1.0"/>
<polyline points="343.65,391.58 393.75,433.25 443.85,441.58 493.95,452.75" fill="none" stroke="#000" stroke-width="1.15" stroke-dasharray="1.4 2.1"/>
<polyline points="343.65,390.91 393.75,436.52 443.85,447.75 493.95,450.25" fill="none" stroke="#000" stroke-width="1.25"/>
<rect x="341.65" y="389.43" width="4.00" height="4.30" fill="#000" stroke="none" stroke-width="1"/>
<rect x="391.75" y="431.10" width="4.00" height="4.30" fill="#000" stroke="none" stroke-width="1"/>
<rect x="441.85" y="439.43" width="4.00" height="4.30" fill="#000" stroke="none" stroke-width="1"/>
<rect x="491.95" y="450.60" width="4.00" height="4.30" fill="#000" stroke="none" stroke-width="1"/>
<path d="M341.55 390.91 L343.65 388.61 L345.75 390.91 L343.65 393.21Z" fill="#000"/>
<path d="M391.65 436.52 L393.75 434.22 L395.85 436.52 L393.75 438.82Z" fill="#000"/>
<path d="M441.75 447.75 L443.85 445.45 L445.95 447.75 L443.85 450.05Z" fill="#000"/>
<path d="M491.85 450.25 L493.95 447.95 L496.05 450.25 L493.95 452.55Z" fill="#000"/>
<line x1="453.20" y1="410.90" x2="477.60" y2="410.90" stroke="#000" stroke-width="1.25"/>
<path d="M463.30 410.90 L465.40 408.60 L467.50 410.90 L465.40 413.20Z" fill="#000"/>
<line x1="453.20" y1="423.00" x2="477.60" y2="423.00" stroke="#000" stroke-width="1.2" stroke-dasharray="1.2 1.5"/>
<rect x="463.40" y="420.85" width="4.00" height="4.30" fill="#000" stroke="none" stroke-width="1"/>
<text transform="translate(480.10,412.90) scale(0.8399,1)" font-size="7.6" text-anchor="start" fill="#111" stroke="#111" stroke-width="0.3">#1</text>
<text transform="translate(480.10,425.50) scale(0.8872,1)" font-size="7.6" text-anchor="start" fill="#111" stroke="#111" stroke-width="0.3">#2</text>
<text transform="translate(332.30,471.80) scale(0.9666,1)" font-size="8.1" text-anchor="start" fill="#111" stroke="#111" stroke-width="0.3">control</text>
<text transform="translate(374.00,471.80) scale(0.9862,1)" font-size="8.1" text-anchor="start" fill="#111" stroke="#111" stroke-width="0.3">Bortezomib</text>
<text transform="translate(429.20,471.80) scale(0.9381,1)" font-size="8.1" text-anchor="start" fill="#111" stroke="#111" stroke-width="0.3">NPI-0052</text>
<text transform="translate(472.90,471.80) scale(0.9672,1)" font-size="8.1" text-anchor="start" fill="#111" stroke="#111" stroke-width="0.3">Bortezomib+</text>
<text transform="translate(479.20,482.70) scale(0.9234,1)" font-size="8.1" text-anchor="start" fill="#111" stroke="#111" stroke-width="0.3">NPI-0052</text>
<text transform="translate(271.80,417.50) rotate(-90)" font-size="9.5" text-anchor="middle" fill="#222" stroke="#222" stroke-width="0.22">CT-L activity</text>
<text transform="translate(283.00,417.50) rotate(-90)" font-size="9.5" text-anchor="middle" fill="#222" stroke="#222" stroke-width="0.22">(% control)</text>
</svg>
</body></html>
